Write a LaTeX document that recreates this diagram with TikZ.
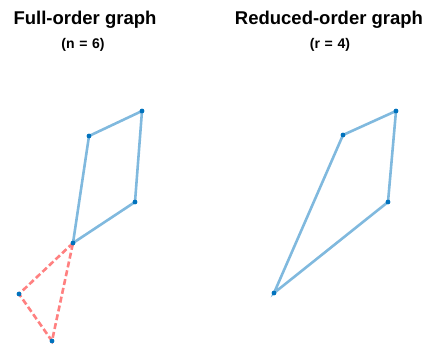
\documentclass[tikz,border=0pt]{standalone}
\usepackage{fontspec}
\setmainfont{Liberation Sans}
\begin{document}
\begin{tikzpicture}[x=1pt,y=-1pt,
  vtx/.style={circle,fill={rgb,255:red,0;green,114;blue,189},inner sep=0pt,minimum size=4.8pt},
  bluee/.style={draw={rgb,255:red,128;green,185;blue,222},line width=2.6pt},
  rede/.style={draw={rgb,255:red,255;green,128;blue,128},line width=2.6pt,dash pattern=on 6pt off 3pt},
  ttl/.style={font=\bfseries\fontsize{18.5}{20}\selectfont},
  sub/.style={font=\bfseries\fontsize{14}{16}\selectfont}]
\useasboundingbox (0,0) rectangle (440,345);
\node[ttl] (t1) at (85,20) {Full-order graph};
\node[sub] (s1) at (83,45) {(n\,\,=\,\,6)};
\node[ttl] (t2) at (329,20) {Reduced-order graph};
\node[sub] (s2) at (330,45) {(r\,\,=\,\,4)};
\coordinate (A) at (73,243);
\coordinate (B) at (89,136);
\coordinate (C) at (142,111);
\coordinate (D) at (135,202);
\coordinate (E) at (19,294);
\coordinate (F) at (52,341);
\coordinate (G) at (274,293);
\coordinate (H) at (343,135);
\coordinate (I) at (396,111);
\coordinate (J) at (388,202);
\draw[bluee] (A) -- (B) -- (C) -- (D) -- cycle;
\draw[rede] (A) -- (E) -- (F) -- cycle;
\draw[bluee] (G) -- (H) -- (I) -- (J) -- cycle;
\foreach \p in {A,B,C,D,E,F,G,H,I,J} \node[vtx] (v\p) at (\p) {};
\end{tikzpicture}
\end{document}
